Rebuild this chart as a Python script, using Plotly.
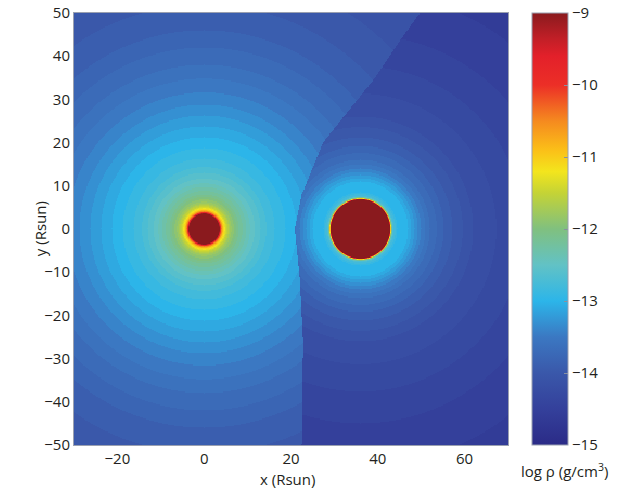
import numpy as np
import plotly.graph_objects as go

# ---- values ----
# star positions (Rsun)
star1_xy = [0.0, 0.0]
star2_xy = [36.0, 0.0]

# radial log-density profile around star 1 (left region)
s1_r = [0, 3.5, 3.9, 4.4, 5.0, 6.0, 8.0, 11, 15, 20, 25, 30, 38, 48, 60, 75, 90]
s1_v = [-9, -9, -10.3, -11.0, -11.4, -11.8, -12.15, -12.5, -12.8, -13.0, -13.2, -13.4,
        -13.65, -13.9, -14.05, -14.15, -14.2]

# radial log-density profile around star 2 (right region)
s2_r = [0, 6.8, 7.1, 7.5, 8.5, 11, 12.5, 14, 16, 20, 26, 34, 45, 60, 80]
s2_v = [-9, -9, -11.8, -12.7, -12.95, -13.05, -13.25, -13.45, -13.65, -13.9, -14.15,
        -14.3, -14.45, -14.6, -14.7]

# wind-collision boundary x(y)
bound_y = [-50, -26, -11, 0, 8, 20, 35, 43, 50]
bound_x = [22.5, 22.8, 22.0, 20.9, 22.5, 27.4, 39.4, 44.7, 49.7]

x_ticks = [-20, 0, 20, 40, 60]
y_ticks = [-50, -40, -30, -20, -10, 0, 10, 20, 30, 40, 50]
cb_ticks = [-9, -10, -11, -12, -13, -14, -15]

# ---- build the grid ----
xs = np.arange(-30, 70.001, 0.25)
ys = np.arange(-50, 50.001, 0.25)
X, Y = np.meshgrid(xs, ys)
r1 = np.hypot(X - star1_xy[0], Y - star1_xy[1])
r2 = np.hypot(X - star2_xy[0], Y - star2_xy[1])
f1 = np.interp(r1, s1_r, s1_v)
f2 = np.interp(r2, s2_r, s2_v)
xb = np.interp(Y, bound_y, bound_x)
Z = np.where(X < xb, f1, f2)
Z = np.where(r2 < s2_r[1], -9.0, Z)
Z = np.round(Z / 0.1) * 0.1
Z = np.round(Z, 2)

colorscale = [
    [0.000, "#2b2b87"],
    [0.083, "#34409b"],
    [0.167, "#3a58aa"],
    [0.250, "#3b78c2"],
    [0.333, "#2cb5e9"],
    [0.417, "#62c2c5"],
    [0.500, "#80c07f"],
    [0.583, "#c4d336"],
    [0.633, "#f3e51d"],
    [0.683, "#fbbf18"],
    [0.750, "#f58a1f"],
    [0.833, "#ec2f27"],
    [0.900, "#e3202a"],
    [0.940, "#c21f27"],
    [1.000, "#8a1a1e"],
]

def lab(v):
    return ("\u2212" + str(abs(v))) if v < 0 else str(v)

fig = go.Figure(go.Heatmap(
    x=xs, y=ys, z=Z, zmin=-15, zmax=-9, zsmooth=False,
    colorscale=colorscale, hoverinfo="skip",
    colorbar=dict(
        x=1.055, xanchor="left", xref="paper",
        y=0.5, yanchor="middle", len=1.0, lenmode="fraction",
        thickness=36, thicknessmode="pixels",
        outlinecolor="#9aa0b0", outlinewidth=1,
        tickvals=cb_ticks, ticktext=[lab(v) for v in cb_ticks],
        ticks="inside", ticklen=4, tickcolor="#8890a0",
        ticklabeloverflow="allow",
        tickfont=dict(family="Open Sans", size=15, color="#231f20"),
        ypad=0, xpad=0,
    ),
))

fig.update_layout(
    width=628, height=490,
    margin=dict(l=74, r=120, t=13, b=45, autoexpand=False),
    paper_bgcolor="white", plot_bgcolor="white",
    font=dict(family="Open Sans", size=15, color="#231f20"),
    xaxis=dict(range=[-30, 70], tickvals=x_ticks, ticktext=[lab(v) for v in x_ticks],
               showgrid=False, zeroline=False, showline=True, mirror=True,
               linecolor="#9aa0b0", linewidth=1, ticks="", ticklabeloverflow="allow"),
    yaxis=dict(range=[-50, 50], tickvals=y_ticks, ticktext=[lab(v) for v in y_ticks],
               showgrid=False, zeroline=False, showline=True, mirror=True,
               linecolor="#9aa0b0", linewidth=1, ticks="", ticklabeloverflow="allow"),
    annotations=[
        dict(text="x (Rsun)", xref="paper", yref="paper", x=0.491, y=-0.078,
             xanchor="center", yanchor="middle", showarrow=False,
             font=dict(size=15)),
        dict(text="y (Rsun)", xref="paper", yref="paper", x=-0.078, y=0.5,
             xanchor="center", yanchor="middle", showarrow=False, textangle=-90,
             font=dict(size=15)),
        dict(text="log \u03c1 (g/cm<sup>3</sup>)", xref="paper", yref="paper",
             x=1.131, y=-0.058, xanchor="center", yanchor="middle", showarrow=False,
             font=dict(size=15)),
    ],
)

fig.write_html("out.html", config={"displayModeBar": False},
               post_script="document.body.style.margin='0';")
